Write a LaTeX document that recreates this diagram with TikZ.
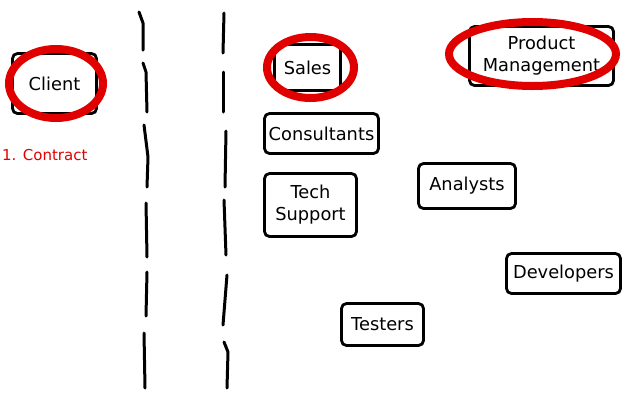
\documentclass[tikz,border=0pt]{standalone}
\usepackage{fontspec}
\setmainfont{DejaVu Sans}
\usetikzlibrary{shapes.geometric}
\definecolor{mark}{RGB}{225,0,0}
\tikzset{
  box/.style={draw=black, line width=2.8pt, rounded corners=5pt, inner sep=2pt,
    font=\fontsize{17.8}{22}\selectfont, align=center, fill=white},
  ring/.style={draw=mark, line width=8pt, ellipse, inner sep=0pt},
  divider/.style={draw=black, line width=3pt, line cap=round, line join=round},
}
\begin{document}
\begin{tikzpicture}[x=1pt,y=-1pt]
\useasboundingbox (0,0) rectangle (640,400);
\fill[white] (0,0) rectangle (640,400);
% dividers
\draw[divider] (139,12) -- (143,23) -- (143,50);
\draw[divider] (143,63) -- (146,72) -- (147,112);
\draw[divider] (144,125) -- (148,157) -- (147,187);
\draw[divider] (146,203) -- (147,257);
\draw[divider] (147,272) -- (146,316);
\draw[divider] (144,333) -- (145,388);
\draw[divider] (224,13) -- (223,53);
\draw[divider] (223,72) -- (223,112);
\draw[divider] (226,131) -- (225,187);
\draw[divider] (224,200) -- (226,255);
\draw[divider] (227,275) -- (223,325);
\draw[divider] (224,342) -- (228,352) -- (227,388);
% boxes
\node[box, minimum width=84pt, minimum height=60pt] (client) at (54.5,83.5) {Client};
\node[box, minimum width=66pt, minimum height=46pt] (sales) at (307.5,67.5) {Sales};
\node[box, minimum width=144pt, minimum height=59pt] (pm) at (541.5,56) {Product\\Management};
\node[box, minimum width=114pt, minimum height=40pt] (cons) at (321.5,133.5) {Consultants};
\node[box, minimum width=92pt, minimum height=63pt] (tech) at (310.5,205) {Tech\\Support};
\node[box, minimum width=97pt, minimum height=45pt] (anal) at (467,186) {Analysts};
\node[box, minimum width=114pt, minimum height=40pt] (dev) at (563.5,273.5) {Developers};
\node[box, minimum width=82pt, minimum height=42pt] (test) at (382.5,324.5) {Testers};
% red rings
\node[ring, minimum width=94pt, minimum height=69pt] (ringclient) at (56,83.5) {};
\node[ring, minimum width=87pt, minimum height=61pt] (ringsales) at (310.5,67.5) {};
\node[ring, minimum width=167pt, minimum height=64pt] (ringpm) at (532.5,54) {};
% label
\node[text=mark, font=\fontsize{15}{18}\selectfont, anchor=west, inner sep=0pt] (contract) at (2,155) {1. Contract};
\end{tikzpicture}
\end{document}
